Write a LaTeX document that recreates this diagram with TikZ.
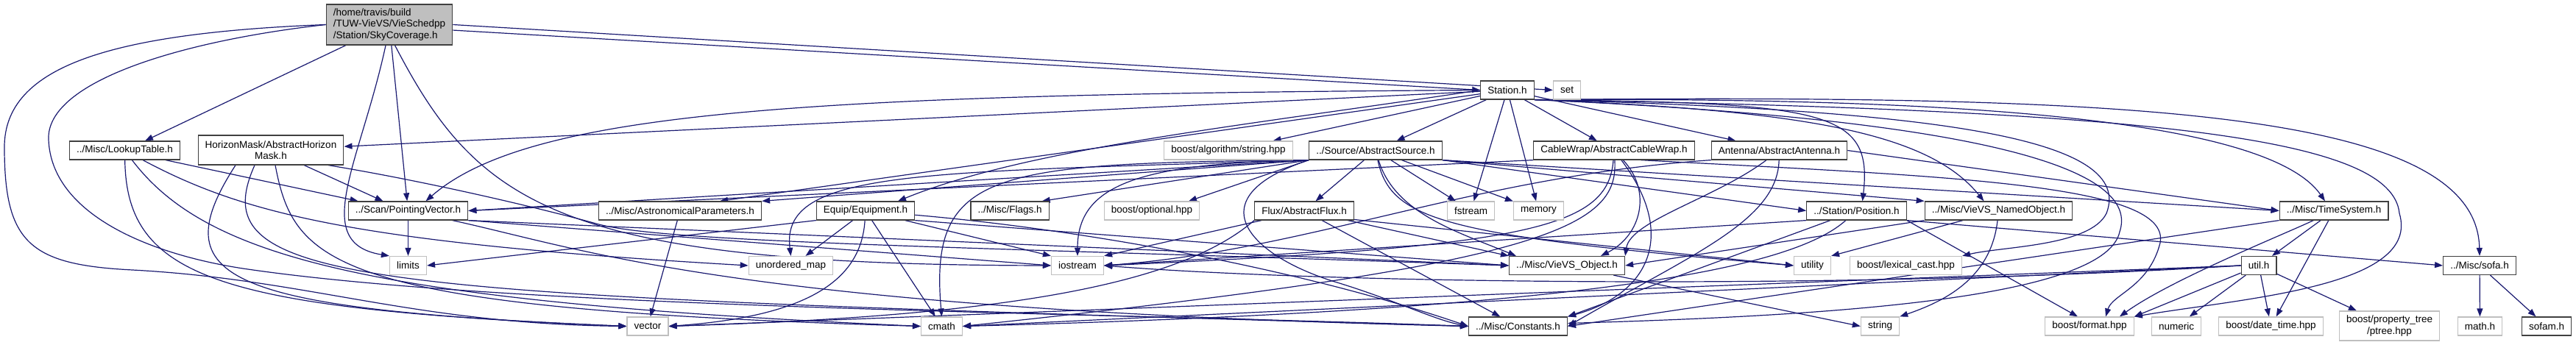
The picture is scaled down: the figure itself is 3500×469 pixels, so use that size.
\documentclass[tikz,border=0pt]{standalone}
\usepackage{fontspec}
\setmainfont{Liberation Sans}
\usepackage{tikz}
\usetikzlibrary{arrows.meta,backgrounds}
\definecolor{gedge}{HTML}{191970}
\definecolor{gext}{HTML}{BFBFBF}
\definecolor{groot}{HTML}{BFBFBF}
\newcommand{\graphfont}{\fontsize{6.75}{7.6}\selectfont}
\tikzset{
  >={Triangle[length=5.5pt,width=4pt]},
  gbox/.style={rectangle, fill=white, line width=0.6pt, font=\graphfont,
               inner xsep=4.8pt, inner ysep=1pt, minimum height=12.5pt,
               align=center},
  gfile/.style={gbox, draw=black!75},
  gsys/.style={gbox, draw=gext},
  gmain/.style={gbox, draw=black!75, fill=groot, minimum height=27.5pt, align=left},
  gdep/.style={->, draw=gedge, line width=0.6pt},
}

\begin{document}
\begin{tikzpicture}[x=0.5pt,y=-0.5pt]

  \useasboundingbox (0,0) rectangle (3500,469);

  % arquivo principal
  \node[gmain] (root) at (529,33.5) {/home/travis/build\\/TUW-VieVS/VieSchedpp\\/Station/SkyCoverage.h};

  % linha 2
  \node[gfile] (station) at (2048,122.5) {Station.h};
  \node[gsys]  (stdset)  at (2129,122.5) {set};

  % linha 3
  \node[gfile] (lookup)    at (169.5,204.5) {../Misc/LookupTable.h};
  \node[gfile, minimum height=20pt] (hmask) at (368,204) {HorizonMask/AbstractHorizon\\Mask.h};
  \node[gsys]  (algostr)   at (1669,204.5) {boost/algorithm/string.hpp};
  \node[gfile] (source)    at (1869,204.5) {../Source/AbstractSource.h};
  \node[gfile] (cablewrap) at (2193,204.5) {CableWrap/AbstractCableWrap.h};
  \node[gfile] (antenna)   at (2417.5,204.5) {Antenna/AbstractAntenna.h};

  % linha 4
  \node[gfile] (pvec)     at (554.5,286.5) {../Scan/PointingVector.h};
  \node[gfile] (astro)    at (924,286.5) {../Misc/AstronomicalParameters.h};
  \node[gfile] (equip)    at (1176,286.5) {Equip/Equipment.h};
  \node[gfile] (flags)    at (1372,286.5) {../Misc/Flags.h};
  \node[gsys]  (optional) at (1565,286.5) {boost/optional.hpp};
  \node[gfile] (flux)     at (1772,286.5) {Flux/AbstractFlux.h};
  \node[gsys]  (fstream)  at (1998.5,286.5) {fstream};
  \node[gsys]  (memory)   at (2090.5,286.5) {memory};
  \node[gfile] (position) at (2522.5,286.5) {../Station/Position.h};
  \node[gfile] (named)    at (2715.5,286.5) {../Misc/VieVS\_NamedObject.h};
  \node[gfile] (timesys)  at (3171,286.5) {../Misc/TimeSystem.h};

  % linha 5
  \node[gsys]  (limits)  at (554.5,361) {limits};
  \node[gsys]  (umap)    at (1074.5,361) {unordered\_map};
  \node[gsys]  (iostr)   at (1464,361) {iostream};
  \node[gfile] (vobj)    at (2129,361) {../Misc/VieVS\_Object.h};
  \node[gsys]  (utility) at (2462.5,361) {utility};
  \node[gsys]  (lexical) at (2589.5,361) {boost/lexical\_cast.hpp};
  \node[gfile] (util)    at (3069,361) {util.h};
  \node[gfile] (sofa)    at (3369,361) {../Misc/sofa.h};

  % linha 6
  \node[gsys]  (stdvec)    at (880,443.5) {vector};
  \node[gsys]  (cmath)     at (1279.5,443.5) {cmath};
  \node[gfile] (constants) at (2062.5,443.5) {../Misc/Constants.h};
  \node[gsys]  (stdstr)    at (2554.5,443.5) {string};
  \node[gsys]  (boostfmt)  at (2839,443.5) {boost/format.hpp};
  \node[gsys]  (numeric)   at (2957,443.5) {numeric};
  \node[gsys]  (datetime)  at (3085.5,443.5) {boost/date\_time.hpp};
  \node[gsys, minimum height=20pt] (ptree) at (3246.5,443) {boost/property\_tree\\/ptree.hpp};
  \node[gsys]  (mathh)     at (3369.5,443.5) {math.h};
  \node[gfile] (sofam)     at (3460,443.5) {sofam.h};

  \begin{scope}[on background layer]
    % SkyCoverage.h
    \draw[gdep] (root.east) -- (stdset.west);
    \draw[gdep] (root.-5) -- (station.west);
    \draw[gdep] (root) -- (lookup);
    \draw[gdep] (root) -- (pvec);
    \draw[gdep] (root.-100) .. controls (490,220) and (420,330) .. (limits.north west);
    \draw[gdep] (root.-75) .. controls (650,280) and (760,360) .. (iostr.west);
    \draw[gdep] (root.west) .. controls (150,45) and (6,90) .. (6,200)
                .. controls (6,330) and (40,360) .. (180,367)
                .. controls (420,380) and (560,440) .. (stdvec.west);
    \draw[gdep] (root.west) .. controls (250,55) and (62,110) .. (66,190)
                .. controls (70,290) and (200,345) .. (330,365)
                .. controls (700,420) and (1500,425) .. (constants.west);

    % Station.h
    \draw[gdep] (station) -- (hmask);
    \draw[gdep] (station.west) .. controls (1100,128) and (720,150) .. ([xshift=12pt]pvec.north);
    \draw[gdep] (station) -- ([xshift=27pt]astro.north);
    \draw[gdep] (station.west) .. controls (1700,170) and (1400,200) .. ([xshift=22pt]equip.north);
    \draw[gdep] (station) -- (algostr);
    \draw[gdep] (station) -- (source);
    \draw[gdep] (station) -- (fstream);
    \draw[gdep] (station) -- (memory);
    \draw[gdep] (station) -- (cablewrap);
    \draw[gdep] (station) -- (antenna);
    \draw[gdep] (station.south east) .. controls (2480,140) and (2545,150) .. ([xshift=4pt]position.north);
    \draw[gdep] (station.south east) .. controls (2450,150) and (2620,180) .. ([xshift=-10pt]named.north);
    \draw[gdep] (station.south east) .. controls (2650,132) and (3080,160) .. ([xshift=-6pt]timesys.north);
    \draw[gdep] (station.south east) .. controls (2900,128) and (3365,150) .. (sofa.north);
    \draw[gdep] (station.south east) .. controls (2950,150) and (3250,190) .. (3260,290)
                .. controls (3290,390) and (3050,405) .. (boostfmt.north east);
    \draw[gdep] (station.south east) .. controls (2650,150) and (2900,190) .. (2862,290)
                .. controls (2840,335) and (2720,335) .. (lexical.north east);
    \draw[gdep] (station.south east) .. controls (2750,165) and (2905,240) .. (2880,315)
                .. controls (2860,410) and (2450,430) .. ([yshift=2pt]constants.east);

    % AbstractSource.h
    \draw[gdep] (source.south west) -- (pvec.east);
    \draw[gdep] (source.south west) -- (astro.north east);
    \draw[gdep] (source.south west) .. controls (1250,235) and (1060,230) .. (umap.north);
    \draw[gdep] (source.south west) .. controls (1350,222) and (1262,230) .. (cmath.north);
    \draw[gdep] (source.south west) .. controls (1550,222) and (1464,250) .. (iostr.north);
    \draw[gdep] (source.south west) -- ([xshift=-5pt]flags.north east);
    \draw[gdep] (source.south west) -- ([xshift=25pt]optional.north);
    \draw[gdep] (source) -- (flux);
    \draw[gdep] (source) -- (fstream);
    \draw[gdep] (source) -- (memory);
    \draw[gdep] (source) .. controls (1895,290) and (1980,315) .. ([xshift=5pt]vobj.north west);
    \draw[gdep] (source) .. controls (1890,300) and (1960,320) .. (utility.west);
    \draw[gdep] (source.south west) .. controls (1620,270) and (1700,350) .. (1820,385)
                .. controls (1900,410) and (1950,435) .. (constants.west);
    \draw[gdep] (source.south east) -- (position.west);
    \draw[gdep] (source.south east) -- (named.north west);
    \draw[gdep] (source.south east) -- (timesys.west);

    % AbstractCableWrap.h
    \draw[gdep] (cablewrap.south west) -- (pvec.east);
    \draw[gdep] (cablewrap) .. controls (2245,260) and (2230,320) .. ([xshift=23pt]vobj.north);
    \draw[gdep] (cablewrap) .. controls (2280,320) and (2240,400) .. (constants.north east);
    \draw[gdep] (cablewrap) .. controls (2185,310) and (2080,335) .. (iostr.east);
    \draw[gdep] (cablewrap) .. controls (2200,310) and (2100,360) .. (cmath.east);
    \draw[gdep] (cablewrap.-20) .. controls (2650,240) and (2950,250) .. (2935,330)
                .. controls (2920,390) and (2870,400) .. ([xshift=11pt]boostfmt.north);

    % AbstractAntenna.h
    \draw[gdep] (antenna) .. controls (2330,270) and (2215,300) .. (vobj.north east);
    \draw[gdep] (antenna) .. controls (2415,300) and (2300,345) .. (constants.east);
    \draw[gdep] (antenna.south west) .. controls (2000,240) and (1780,340) .. (iostr.east);
    \draw[gdep] (antenna.east) -- (timesys.west);

    % Position.h
    \draw[gdep] (position.south west) -- (iostr.east);
    \draw[gdep] (position) .. controls (2440,360) and (2200,420) .. (cmath.east);
    \draw[gdep] (position) -- (constants.north east);
    \draw[gdep] (position.south east) -- ([xshift=-8pt]boostfmt.north);
    \draw[gdep] (position.south east) -- (sofa.west);

    % VieVS_NamedObject.h, VieVS_Object.h
    \draw[gdep] (named) -- (utility.north east);
    \draw[gdep] (named) .. controls (2705,380) and (2640,410) .. (stdstr.north east);
    \draw[gdep] (named.south west) -- (vobj.east);
    \draw[gdep] (vobj) -- (stdstr.west);

    % AbstractFlux.h
    \draw[gdep] (flux) -- (iostr.north east);
    \draw[gdep] (flux.south west) .. controls (1600,390) and (1350,430) .. (stdvec.east);
    \draw[gdep] (flux) -- (constants);
    \draw[gdep] (flux) -- (vobj.north west);
    \draw[gdep] (flux.-10) -- (utility.west);

    % Equipment.h
    \draw[gdep] (equip.south west) -- (limits.east);
    \draw[gdep] (equip) -- ([xshift=10pt]umap.north);
    \draw[gdep] (equip) .. controls (1170,380) and (1100,430) .. (stdvec.east);
    \draw[gdep] (equip) -- (cmath);
    \draw[gdep] (equip) -- (iostr.north west);
    \draw[gdep] (equip.south east) -- (vobj.west);
    \draw[gdep] (equip) .. controls (1450,310) and (1750,360) .. (constants.west);

    % AstronomicalParameters.h, LookupTable.h
    \draw[gdep] (astro) -- (stdvec);
    \draw[gdep] ([xshift=-10pt]lookup.south east) -- ([xshift=7pt]pvec.north west);
    \draw[gdep] (lookup) .. controls (330,290) and (480,330) .. (umap.west);
    \draw[gdep] (lookup) .. controls (280,350) and (500,410) .. (cmath.west);
    \draw[gdep] (lookup) .. controls (172,380) and (300,420) .. (stdvec.west);

    % AbstractHorizonMask.h
    \draw[gdep] ([xshift=-24pt]hmask.south) .. controls (220,380) and (300,420) .. (stdvec.west);
    \draw[gdep] ([xshift=-11pt]hmask.south) .. controls (270,395) and (500,400) .. (constants.west);
    \draw[gdep] ([xshift=3pt]hmask.south) .. controls (400,360) and (450,420) .. (cmath.west);
    \draw[gdep] (hmask) -- ([xshift=-17pt]pvec.north);
    \draw[gdep] ([xshift=39pt]hmask.south) .. controls (600,250) and (760,290) .. (810,304)
                .. controls (900,330) and (1300,335) .. (vobj.west);

    % PointingVector.h
    \draw[gdep] (pvec) -- (limits);
    \draw[gdep] (pvec.south east) -- (iostr.west);
    \draw[gdep] (pvec.south east) -- (vobj.west);
    \draw[gdep] (pvec) .. controls (800,340) and (1000,420) .. (constants.west);

    % TimeSystem.h, util.h
    \draw[gdep] (timesys) .. controls (3100,320) and (2950,380) .. ([xshift=-10pt]boostfmt.north east);
    \draw[gdep] (timesys) -- (util);
    \draw[gdep] (timesys) -- (datetime);
    \draw[gdep] (timesys.south west) -- (constants.east);
    \draw[gdep] (util) -- (boostfmt.north east);
    \draw[gdep] (util) -- (numeric);
    \draw[gdep] (util) -- (datetime);
    \draw[gdep] (util) -- (ptree);
    \draw[gdep] (util.west) -- (stdvec.east);
    \draw[gdep] (util.west) -- (cmath.east);
    \draw[gdep] (util.west) .. controls (2500,395) and (1800,385) .. (iostr.east);

    % sofa.h
    \draw[gdep] (sofa) -- (mathh);
    \draw[gdep] (sofa) -- (sofam);
  \end{scope}

\end{tikzpicture}
\end{document}
